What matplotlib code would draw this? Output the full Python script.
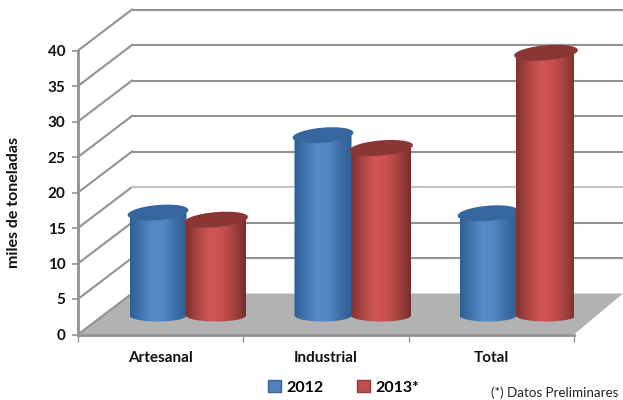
import numpy as np
import matplotlib
matplotlib.use('Agg')
import matplotlib.pyplot as plt
from matplotlib.colors import LinearSegmentedColormap
from matplotlib.patches import Polygon, Patch

categories = ['Artesanal', 'Industrial', 'Total']
serie_2012 = [14.5, 25.4, 14.4]
serie_2013 = [13.5, 23.6, 37.0]
yticks = [0, 5, 10, 15, 20, 25, 30, 35, 40]

W, H = 623, 400
plt.rcParams['font.family'] = ['Lato', 'DejaVu Sans']

fig = plt.figure(figsize=(W / 100, H / 100), dpi=100)
ax = fig.add_axes([78 / W, 1 - 334.5 / H, 496 / W, 284 / H])
ax.set_xlim(0, 3)
ax.set_ylim(0, 40)

# un pixel en unidades de datos
px = 3 / 496
py = 40 / 284
# profundidad del grafico 3D
dx = 54 * px
dy = 41 * py
GRID = '#929292'

# piso
ax.add_patch(Polygon([(0, 0), (dx, dy), (3 + 49 * px, dy), (3, 0)],
                     closed=True, fc='#b2b2b2', ec='none', clip_on=False, zorder=1))

# lineas de la pared
for v in yticks:
    c = '#c4c4c4' if v == 15 else GRID
    ax.plot([0, dx], [v, v + dy], color=GRID, lw=1.5, clip_on=False, zorder=2)
    if v > 0:
        ax.plot([dx, 3 + 49 * px], [v + dy, v + dy], color=c, lw=1.5, clip_on=False, zorder=2)

cmap_blue = LinearSegmentedColormap.from_list('b', ['#2f5f94', '#4276b0', '#5589c9', '#5185c3', '#3e6fa8', '#2f5e92'])
cmap_red = LinearSegmentedColormap.from_list('r', ['#803230', '#ad4644', '#cf5654', '#ca504e', '#a54240', '#782e2c'])


def cylinder(xc, val, width, cmap, top_color, z):
    # xc y width en pixeles desde el eje, val en unidades del eje y
    t = np.linspace(0, 2 * np.pi, 90)
    a = width / 2 + 2
    b = 7.5
    tilt = np.radians(5)
    ex = a * np.cos(t) * np.cos(tilt) + b * np.sin(t) * np.sin(tilt)
    ey = a * np.cos(t) * np.sin(tilt) - b * np.sin(t) * np.cos(tilt)
    y_base = 19 * py
    y_top = y_base + val
    left = (xc - width / 2) * px
    right = (xc + width / 2) * px
    # cuerpo
    s = np.linspace(np.pi, 2 * np.pi, 40)
    bot_x = (xc + width / 2 * np.cos(s)) * px
    bot_y = y_base + 6 * np.sin(s) * py
    body = np.column_stack([np.r_[left, bot_x, right], np.r_[y_top, bot_y, y_top]])
    clip = Polygon(body, closed=True, transform=ax.transData, fc='none', ec='none')
    ax.add_patch(clip)
    im = ax.imshow(np.linspace(0, 1, 64).reshape(1, -1), cmap=cmap, aspect='auto',
                   extent=(left, right, y_base - 8 * py, y_top), zorder=z, clip_on=True)
    im.set_clip_path(clip)
    # tapa
    top = np.column_stack([(xc + ex) * px, y_top + ey * py])
    ax.add_patch(Polygon(top, closed=True, fc=top_color, ec='none', clip_on=False, zorder=z + 0.1))


for i in range(len(categories)):
    xc_b = [80, 245, 410][i]
    xc_r = [138, 303, 468][i]
    cylinder(xc_b, serie_2012[i], 57, cmap_blue, '#36669e', 3 + i)
    cylinder(xc_r, serie_2013[i], 60, cmap_red, '#8a3634', 3.5 + i)

ax.set_xlim(0, 3)
ax.set_ylim(0, 40)
ax.set_aspect('auto')

ax.set_xticks([0, 1, 2, 3])
ax.set_xticklabels([])
ax.set_xticks([0.5, 1.5, 2.5], minor=True)
ax.set_xticklabels(categories, minor=True, fontsize=11, fontweight='bold', color='#111111')
ax.tick_params(axis='x', which='minor', length=0, pad=12)
ax.tick_params(axis='x', which='major', length=5, width=1, color=GRID)
ax.set_yticks(yticks)
ax.set_yticklabels(yticks, fontsize=11, fontweight='bold', color='#111111')
ax.tick_params(axis='y', length=4, width=1.2, color=GRID, pad=5)

for s in ['top', 'right']:
    ax.spines[s].set_visible(False)
for s in ['left', 'bottom']:
    ax.spines[s].set_color(GRID)
    ax.spines[s].set_linewidth(2)
    ax.spines[s].set_zorder(2.5)

ax.set_ylabel('miles de toneladas', fontsize=11.5, fontweight='bold', color='#111111', labelpad=0)
ax.yaxis.set_label_coords(-57 / 496, 0.465)
ax.patch.set_alpha(0)

handles = [Patch(fc='#4f81bd', ec='#3a6595', label='2012'),
           Patch(fc='#c0504d', ec='#8f3c3a', label='2013*')]
fig.legend(handles=handles, ncol=2, frameon=False, loc='center', bbox_to_anchor=(344 / W, 1 - 387.5 / H),
           prop={'size': 11.5, 'weight': 'bold'}, handlelength=0.8, handleheight=0.8,
           handletextpad=0.35, columnspacing=2.1)
fig.text(491 / W, 1 - 393 / H, '(*) Datos Preliminares', fontsize=9.6, color='#222222', va='center')

fig.savefig('out.png', dpi=100)
